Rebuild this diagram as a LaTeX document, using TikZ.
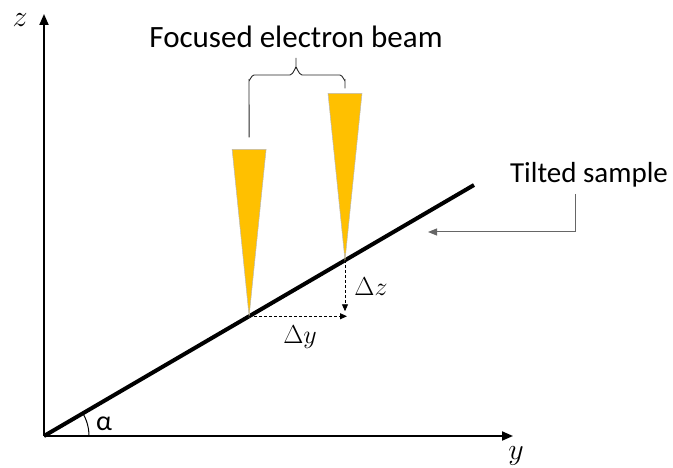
\RequirePackage{fix-cm}
\documentclass[tikz,border=0pt]{standalone}
\usepackage[no-math]{fontspec}
\setmainfont{Carlito}
\usepackage{tikz}
\usetikzlibrary{arrows.meta,calc}
\definecolor{beamgold}{HTML}{FFC000}

\begin{document}
\begin{tikzpicture}[
    x=1pt, y=-1pt,
    axis/.style={draw=black, line width=2pt, -{Triangle[length=11pt,width=9pt]}},
    sample/.style={draw=black, line width=4pt},
    beam/.style={fill=beamgold, draw=gray!55, line width=0.5pt},
    brace/.style={draw=black!85, line width=0.9pt},
    measure/.style={draw=black, densely dashed, line width=0.9pt, -{Triangle[length=7pt,width=6pt]}},
    callout/.style={draw=gray!80!black, line width=1pt, -{Triangle[length=9pt,width=7pt]}},
    textlabel/.style={font=\fontsize{30}{34}\selectfont, inner sep=0pt},
    mathlabel/.style={font=\fontsize{30}{34}\selectfont, inner sep=0pt},
    deltalabel/.style={font=\fontsize{26}{30}\selectfont, inner sep=0pt}
  ]
    \useasboundingbox (0,0) rectangle (673,468);
    % axes and sample
    \coordinate (O) at (44,436);
    \coordinate (ztip) at (44,14);
    \coordinate (ytip) at (513,436);
    \coordinate (send) at (474,185);
    \draw[axis] (O) -- (ztip);
    \draw[axis] (O) -- (ytip);
    \node[mathlabel] (zlabel) at (20,20) {$z$};
    \node[mathlabel] (ylabel) at (516,456) {$y$};
    \draw[sample] (O) -- (send);
    \draw[line width=1pt] (O) ++(45,0) arc[start angle=0, end angle=-30.3, radius=45];
    \node[textlabel, font=\fontsize{28}{32}\selectfont] (alpha) at (104,424) {α};
    % beams
    \foreach \t/\n in {0.477/A, 0.700/B}{
      \coordinate (tip\n) at ($(O)!\t!(send)$);
      \draw[beam] (tip\n) -- ++(-17,-167) -- ++(34,0) -- cycle;
    }
    % brace
    \node[textlabel, font=\fontsize{31}{35}\selectfont] (beamtext) at (296,37) {Focused electron beam};
    \draw[brace] ($(tipA)+(0,-179)$) -- (249,80) to[out=-90,in=180] (254,75) -- (290,75)
      to[out=0,in=90] (296,68) -- (296,58);
    \draw[brace] ($(tipB)+(0,-172)$) -- (345,80) to[out=-90,in=0] (340,75) -- (302,75)
      to[out=180,in=90] (296,68);
    % displacement
    \coordinate (corner) at (tipA -| tipB);
    \draw[measure] (tipB) -- ([yshift=5pt]corner);
    \draw[measure] (tipA) -- ([xshift=2pt]corner);
    \node[deltalabel] (dz) at (371,287) {$\Delta z$};
    \node[deltalabel] (dy) at (300,337) {$\Delta y$};
    % sample label
    \node[textlabel, font=\fontsize{29}{33}\selectfont] (sampletext) at (589,175) {Tilted sample};
    \coordinate (callend) at (428,232);
    \draw[callout] (575,194) |- (callend);
\end{tikzpicture}
\end{document}
